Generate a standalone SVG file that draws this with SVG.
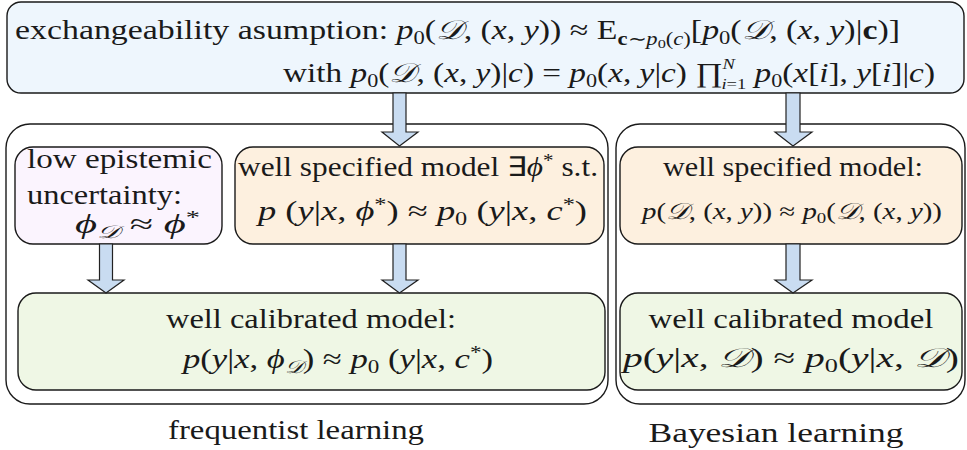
<svg xmlns="http://www.w3.org/2000/svg" width="967" height="450" viewBox="0 0 967 450" font-family="Liberation Serif" font-size="27" fill="#1a1a1a">
<style>
.box{stroke:#1a1a1a;stroke-width:1.4}
.cont{fill:none;stroke:#1a1a1a;stroke-width:1.4}
.arr{fill:#c9dcf1;stroke:#222;stroke-width:1.2}
.i{font-style:italic}
.s{font-size:18px}
.t{font-size:15px}
.b{font-weight:bold}
</style>
<rect width="967" height="450" fill="#ffffff"/>
<g id="frequentist">
<rect class="cont" x="6" y="124" width="602" height="280" rx="24"/>
<text x="296" y="439" text-anchor="middle" textLength="256" lengthAdjust="spacingAndGlyphs">frequentist learning</text>
</g>
<g id="bayesian">
<rect class="cont" x="616" y="124" width="349" height="280" rx="24"/>
<text x="776" y="442" text-anchor="middle" textLength="255" lengthAdjust="spacingAndGlyphs">Bayesian learning</text>
</g>
<g id="exchangeability">
<rect class="box" x="7" y="2" width="957" height="91" rx="14" fill="#eef6fd"/>
<text x="15" y="39" textLength="885" lengthAdjust="spacingAndGlyphs">exchangeability asumption: <tspan class="i">p</tspan><tspan class="s" dy="5">0</tspan><tspan dy="-5">(</tspan><tspan class="i">𝒟</tspan>, (<tspan class="i">x</tspan>, <tspan class="i">y</tspan>)) ≈ E<tspan class="s b" dy="6">c</tspan><tspan class="s">∼</tspan><tspan class="s i">p</tspan><tspan font-size="13" dy="3">0</tspan><tspan class="s" dy="-3">(</tspan><tspan class="s i">c</tspan><tspan class="s">)</tspan><tspan dy="-6">[</tspan><tspan class="i">p</tspan><tspan class="s" dy="5">0</tspan><tspan dy="-5">(</tspan><tspan class="i">𝒟</tspan>, (<tspan class="i">x</tspan>, <tspan class="i">y</tspan>)|<tspan class="b">c</tspan>)]</text>
<text x="283" y="82" textLength="652" lengthAdjust="spacingAndGlyphs">with <tspan class="i">p</tspan><tspan class="s" dy="5">0</tspan><tspan dy="-5">(</tspan><tspan class="i">𝒟</tspan>, (<tspan class="i">x</tspan>, <tspan class="i">y</tspan>)|<tspan class="i">c</tspan>) = <tspan class="i">p</tspan><tspan class="s" dy="5">0</tspan><tspan dy="-5">(</tspan><tspan class="i">x</tspan>, <tspan class="i">y</tspan>|<tspan class="i">c</tspan>) ∏<tspan class="t i" dy="-13">N</tspan><tspan class="t i" dx="-11" dy="20">i</tspan><tspan class="t">=1</tspan> <tspan class="i" dy="-7">p</tspan><tspan class="s" dy="5">0</tspan><tspan dy="-5">(</tspan><tspan class="i">x</tspan>[<tspan class="i">i</tspan>], <tspan class="i">y</tspan>[<tspan class="i">i</tspan>]|<tspan class="i">c</tspan>)</text>
</g>
<g id="low-epistemic">
<rect class="box" x="15" y="147" width="207" height="97" rx="18" fill="#fbf4fe"/>
<text x="27" y="168" textLength="185" lengthAdjust="spacingAndGlyphs">low epistemic</text>
<text x="27" y="204" textLength="155" lengthAdjust="spacingAndGlyphs">uncertainty:</text>
<text x="75" y="233" textLength="125" lengthAdjust="spacingAndGlyphs"><tspan class="i">ϕ</tspan><tspan class="s i" dy="5">𝒟</tspan><tspan dy="-5"> ≈ </tspan><tspan class="i">ϕ</tspan><tspan class="s" dy="-9">*</tspan></text>
</g>
<g id="well-specified-freq">
<rect class="box" x="235" y="147" width="369" height="97" rx="18" fill="#fdf0df"/>
<text x="238" y="176" textLength="360" lengthAdjust="spacingAndGlyphs">well specified model ∃<tspan class="i">ϕ</tspan><tspan class="s" dy="-9">*</tspan><tspan dy="9"> s.t.</tspan></text>
<text x="258" y="220" textLength="329" lengthAdjust="spacingAndGlyphs"><tspan class="i">p</tspan> (<tspan class="i">y</tspan>|<tspan class="i">x</tspan>, <tspan class="i">ϕ</tspan><tspan class="s" dy="-9">*</tspan><tspan dy="9">) ≈ </tspan><tspan class="i">p</tspan><tspan class="s" dy="5">0</tspan><tspan dy="-5"> (</tspan><tspan class="i">y</tspan>|<tspan class="i">x</tspan>, <tspan class="i">c</tspan><tspan class="s" dy="-9">*</tspan><tspan dy="9">)</tspan></text>
</g>
<g id="well-specified-bayes">
<rect class="box" x="620" y="147" width="342" height="97" rx="18" fill="#fdf0df"/>
<text x="793" y="176" text-anchor="middle" textLength="260" lengthAdjust="spacingAndGlyphs">well specified model:</text>
<text x="642" y="219" font-size="23" textLength="300" lengthAdjust="spacingAndGlyphs"><tspan class="i">p</tspan>(<tspan class="i">𝒟</tspan>, (<tspan class="i">x</tspan>, <tspan class="i">y</tspan>)) ≈ <tspan class="i">p</tspan><tspan font-size="15" dy="4">0</tspan><tspan dy="-4">(</tspan><tspan class="i">𝒟</tspan>, (<tspan class="i">x</tspan>, <tspan class="i">y</tspan>))</text>
</g>
<g id="calibrated-freq">
<rect class="box" x="18" y="293" width="587" height="97" rx="18" fill="#eff7e5"/>
<text x="311" y="328" text-anchor="middle" textLength="290" lengthAdjust="spacingAndGlyphs">well calibrated model:</text>
<text x="183" y="368" textLength="310" lengthAdjust="spacingAndGlyphs"><tspan class="i">p</tspan>(<tspan class="i">y</tspan>|<tspan class="i">x</tspan>, <tspan class="i">ϕ</tspan><tspan class="s i" dy="5">𝒟</tspan><tspan dy="-5">) ≈ </tspan><tspan class="i">p</tspan><tspan class="s" dy="5">0</tspan><tspan dy="-5"> (</tspan><tspan class="i">y</tspan>|<tspan class="i">x</tspan>, <tspan class="i">c</tspan><tspan class="s" dy="-9">*</tspan><tspan dy="9">)</tspan></text>
</g>
<g id="calibrated-bayes">
<rect class="box" x="620" y="293" width="342" height="97" rx="18" fill="#eff7e5"/>
<text x="791" y="328" text-anchor="middle" textLength="285" lengthAdjust="spacingAndGlyphs">well calibrated model</text>
<text x="623" y="367" textLength="336" lengthAdjust="spacingAndGlyphs"><tspan class="i">p</tspan>(<tspan class="i">y</tspan>|<tspan class="i">x</tspan>, <tspan class="i">𝒟</tspan>) ≈ <tspan class="i">p</tspan><tspan class="s" dy="5">0</tspan><tspan dy="-5">(</tspan><tspan class="i">y</tspan>|<tspan class="i">x</tspan>, <tspan class="i">𝒟</tspan>)</text>
</g>
<g id="connectors">
<polygon class="arr" points="393,93 406,93 406,132 418,132 399.5,146 382,132 393,132"/>
<polygon class="arr" points="786,93 800,93 800,132 812,132 793,146 775,132 786,132"/>
<polygon class="arr" points="99.5,244 112.5,244 112.5,280 124,280 106,293 88,280 99.5,280"/>
<polygon class="arr" points="393,244 406,244 406,280 418,280 399.5,293 382,280 393,280"/>
<polygon class="arr" points="786,244 800,244 800,280 812,280 793,293 775,280 786,280"/>
</g>
</svg>
